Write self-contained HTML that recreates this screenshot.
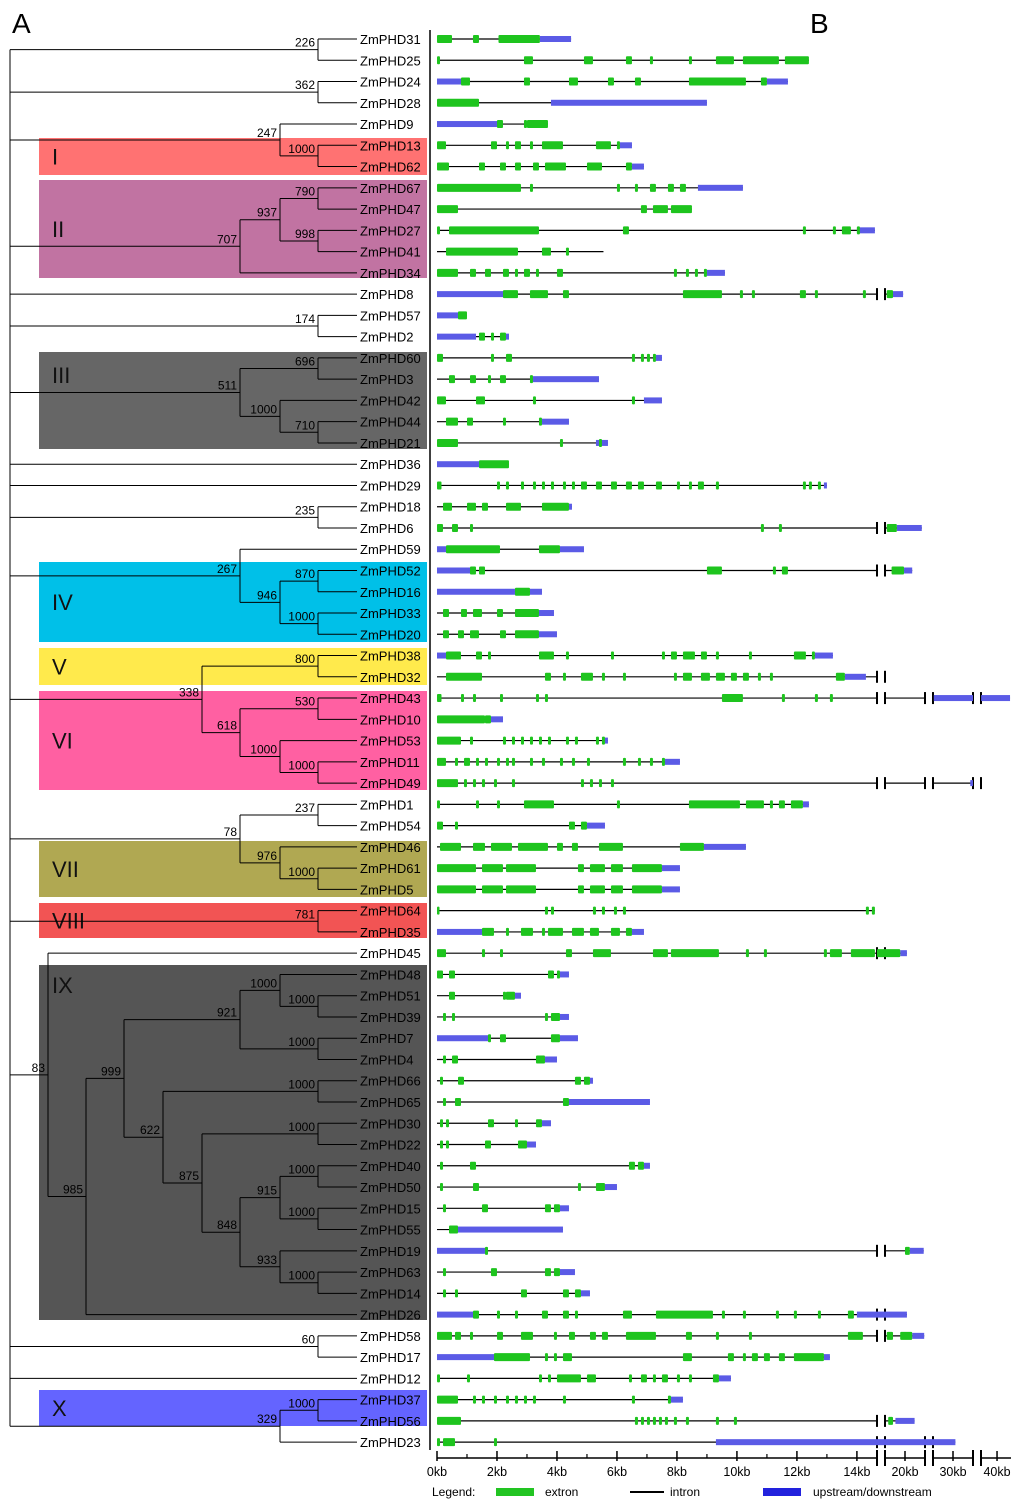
<!DOCTYPE html>
<html><head><meta charset="utf-8"><style>
body{margin:0;background:#fff;font-family:"Liberation Sans",sans-serif}
svg{display:block}
</style></head><body>
<svg id="fig" width="1024" height="1502" viewBox="0 0 1024 1502">
<text x="12" y="33" font-size="28">A</text>
<text x="810" y="33" font-size="28">B</text>
<g id="boxes"></g><g id="tree"></g><g id="genes"></g><g id="axis"></g>
<line x1="430" y1="30" x2="430" y2="1450" stroke="#000" stroke-width="1.5"/>
<g>
<text x="432" y="1496" font-size="12">Legend:</text>
<rect x="496" y="1488" width="38" height="8" fill="#22c422"/>
<text x="545" y="1496" font-size="12">extron</text>
<line x1="630" y1="1492" x2="664" y2="1492" stroke="#000" stroke-width="2"/>
<text x="670" y="1496" font-size="12">intron</text>
<rect x="763" y="1488" width="38" height="8" fill="#2222dd"/>
<text x="813" y="1496" font-size="12">upstream/downstream</text>
</g>
</svg>
<script>
const NS="http://www.w3.org/2000/svg";
const geneNames=["ZmPHD31","ZmPHD25","ZmPHD24","ZmPHD28","ZmPHD9","ZmPHD13","ZmPHD62","ZmPHD67","ZmPHD47","ZmPHD27","ZmPHD41","ZmPHD34","ZmPHD8","ZmPHD57","ZmPHD2","ZmPHD60","ZmPHD3","ZmPHD42","ZmPHD44","ZmPHD21","ZmPHD36","ZmPHD29","ZmPHD18","ZmPHD6","ZmPHD59","ZmPHD52","ZmPHD16","ZmPHD33","ZmPHD20","ZmPHD38","ZmPHD32","ZmPHD43","ZmPHD10","ZmPHD53","ZmPHD11","ZmPHD49","ZmPHD1","ZmPHD54","ZmPHD46","ZmPHD61","ZmPHD5","ZmPHD64","ZmPHD35","ZmPHD45","ZmPHD48","ZmPHD51","ZmPHD39","ZmPHD7","ZmPHD4","ZmPHD66","ZmPHD65","ZmPHD30","ZmPHD22","ZmPHD40","ZmPHD50","ZmPHD15","ZmPHD55","ZmPHD19","ZmPHD63","ZmPHD14","ZmPHD26","ZmPHD58","ZmPHD17","ZmPHD12","ZmPHD37","ZmPHD56","ZmPHD23"];
// gene length (kb)
const geneEnd=[4.47,12.4,11.7,9,3.7,6.5,6.9,10.2,8.5,14.6,5.55,9.6,19.6,1.0,2.4,7.5,5.4,7.5,4.4,5.7,2.4,13,4.5,23.5,4.9,21.5,3.5,3.9,4.0,13.2,16,42.7,2.2,5.7,8.1,34.2,12.4,5.6,10.3,8.1,8.1,14.6,6.9,20.4,4.4,2.8,4.4,4.7,4.0,5.2,7.1,3.8,3.3,7.1,6.0,4.4,4.2,23.9,4.6,5.1,20.4,24,13.1,9.8,8.2,22,30.5];
// upstream/downstream regions (kb ranges)
const geneUTR=[[[3.43,4.47]],[],[[0,0.8],[11,11.7]],[[3.8,9]],[[0,2.1]],[[6.1,6.5]],[[6.5,6.9]],[[8.7,10.2]],[],[[14.0,14.6]],[],[[9,9.6]],[[0,2.2],[17.5,19.6]],[[0,0.7]],[[0,1.3],[2.3,2.4]],[[7.3,7.5]],[[3.2,5.4]],[[6.9,7.5]],[[3.5,4.4]],[[5.3,5.7]],[[0,1.4]],[[12.9,13]],[[4.4,4.5]],[[18.3,23.5]],[[0,0.3],[4.1,4.9]],[[0,1.1],[19.8,21.5]],[[0,2.6],[3.1,3.5]],[[3.4,3.9]],[[3.4,4.0]],[[0,0.3],[12.6,13.2]],[[13.6,14.3]],[[26,34.2],[36.7,42.7]],[[1.8,2.2]],[[5.6,5.7]],[[7.6,8.1]],[[33.6,34.2]],[[12.2,12.4]],[[5.0,5.6]],[[8.9,10.3]],[[7.5,8.1]],[[7.5,8.1]],[],[[0,1.5],[6.5,6.9]],[[19,20.4]],[[4.1,4.4]],[[2.6,2.8]],[[4.1,4.4]],[[0,1.7],[4.1,4.7]],[[3.6,4.0]],[[5.1,5.2]],[[4.4,7.1]],[[3.5,3.8]],[[3.0,3.3]],[[6.9,7.1]],[[5.6,6.0]],[[4.1,4.4]],[[0.7,4.2]],[[0,1.6],[21,23.9]],[[4.1,4.6]],[[4.8,5.1]],[[0,1.2],[14,14.7],[15.8,20.4]],[[21.5,24]],[[0,1.9],[12.9,13.1]],[[9.4,9.8]],[[7.8,8.2]],[[18,22]],[[0,0.05],[9.3,14.7],[15.8,24.2],[25.8,30.5]]];
// exons (kb ranges)
const geneExons=[
[[0,0.5],[1.2,1.4],[2.05,3.43]],
[[0,0.1],[2.9,3.2],[4.9,5.2],[6.3,6.5],[7.1,7.2],[8.4,8.5],[9.3,9.9],[10.2,11.4],[11.6,12.4]],
[[0.8,1.1],[2.9,3.1],[4.4,4.7],[5.7,5.9],[6.6,6.8],[8.4,10.3],[10.8,11]],
[[0,1.4]],
[[2.0,2.2],[2.9,3.0],[3.0,3.7]],
[[0,0.3],[1.8,2.0],[2.3,2.4],[2.6,2.8],[3.1,3.2],[3.5,4.2],[5.3,5.8],[6.0,6.1]],
[[0,0.4],[1.4,1.6],[2.1,2.3],[2.6,2.8],[3.2,3.4],[3.6,4.3],[5.0,5.5],[6.3,6.5]],
[[0,2.8],[3.1,3.2],[6.0,6.1],[6.6,6.7],[7.1,7.3],[7.7,7.9],[8.1,8.3]],
[[0,0.7],[6.8,7.0],[7.2,7.7],[7.8,8.5]],
[[0,0.1],[0.4,3.4],[6.2,6.4],[12.2,12.3],[13.2,13.3],[13.5,13.8],[14,14.1]],
[[0.3,2.7],[3.5,3.8],[4.3,4.4]],
[[0,0.7],[1.1,1.3],[1.6,1.8],[2.2,2.4],[2.6,2.7],[2.9,3.1],[3.3,3.4],[4,4.2],[7.9,8],[8.3,8.4],[8.6,8.7],[8.9,9]],
[[2.2,2.7],[3.1,3.7],[4.2,4.4],[8.2,9.5],[10.1,10.2],[10.5,10.6],[12.1,12.3],[12.6,12.7],[14.2,14.3],[16.2,17.5]],
[[0.7,1.0]],
[[1.4,1.6],[1.8,1.9],[2.1,2.3]],
[[0,0.2],[1.8,1.9],[2.3,2.5],[6.5,6.6],[6.8,6.9],[7,7.1],[7.2,7.3]],
[[0.4,0.6],[1.1,1.3],[1.7,1.8],[2.1,2.3],[3.1,3.2]],
[[0,0.3],[1.3,1.6],[3.2,3.3],[6.5,6.6]],
[[0.3,0.7],[1.0,1.2],[2.2,2.3],[3.4,3.5]],
[[0,0.7],[4.1,4.2],[5.4,5.5]],
[[1.4,2.4]],
[[0,0.15],[2,2.1],[2.3,2.4],[2.8,2.9],[3.2,3.3],[3.5,3.6],[3.8,3.9],[4.2,4.3],[4.5,4.6],[4.8,5],[5.3,5.5],[5.8,6],[6.3,6.5],[6.7,6.9],[7.3,7.5],[8,8.1],[8.4,8.5],[8.7,8.9],[9.3,9.4],[12.2,12.3],[12.4,12.5],[12.7,12.8]],
[[0.2,0.5],[1.0,1.3],[1.5,1.7],[2.3,2.8],[3.5,4.4]],
[[0,0.2],[0.5,0.7],[1.1,1.2],[10.8,10.9],[11.4,11.5],[16.2,18.3]],
[[0.3,2.1],[3.4,4.1]],
[[1.1,1.3],[1.4,1.6],[9,9.5],[11.2,11.3],[11.5,11.7],[17.2,19.8]],
[[2.6,3.1]],
[[0.2,0.4],[0.8,1.0],[1.2,1.5],[2.0,2.2],[2.6,3.4]],
[[0.2,0.4],[0.7,0.9],[1.1,1.4],[2.1,2.3],[2.6,3.4]],
[[0.3,0.8],[1.3,1.5],[1.7,1.8],[3.4,3.9],[4.3,4.4],[5.8,5.9],[7.5,7.6],[7.8,8.0],[8.2,8.6],[8.8,9.0],[9.3,9.4],[10.4,10.5],[11.9,12.3],[12.5,12.6]],
[[0.3,1.5],[3.6,3.8],[4.2,4.3],[4.8,5.2],[5.5,5.6],[6.2,6.3],[7.9,8.0],[8.2,8.5],[8.8,9.1],[9.3,9.6],[9.8,10.0],[10.2,10.4],[10.7,10.8],[11.1,11.2],[13.3,13.6]],
[[0,0.15],[0.8,0.9],[1.2,1.3],[2.1,2.2],[3.3,3.4],[3.6,3.7],[9.5,10.2],[11.5,11.6],[12.6,12.7],[13.1,13.2]],
[[0,1.6],[1.6,1.8]],
[[0,0.8],[1.1,1.2],[2.2,2.3],[2.5,2.6],[2.8,2.9],[3.1,3.2],[3.4,3.5],[3.7,3.8],[4.3,4.4],[4.6,4.7],[5.3,5.4],[5.5,5.6]],
[[0,0.3],[0.6,0.7],[0.9,1.1],[1.3,1.4],[1.6,1.7],[2,2.1],[2.3,2.4],[2.5,2.6],[3.1,3.2],[3.5,3.6],[4.1,4.2],[4.5,4.6],[5,5.1],[6.2,6.3],[6.7,6.8],[7.1,7.2],[7.5,7.6]],
[[0,0.7],[0.9,1],[1.2,1.3],[1.5,1.6],[1.9,2],[2.5,2.6],[4.8,4.9],[5.1,5.2],[5.4,5.5],[5.8,5.9]],
[[0,0.1],[1.3,1.4],[2.0,2.1],[2.9,3.9],[6,6.1],[8.4,10.1],[10.3,10.9],[11.1,11.2],[11.4,11.6],[11.8,12.2]],
[[0,0.2],[0.6,0.7],[4.4,4.6],[4.8,5.0]],
[[0.1,0.8],[1.2,1.6],[1.8,2.5],[2.7,3.7],[4,4.2],[4.5,4.7],[5.4,6.2],[8.1,8.9]],
[[0,1.3],[1.5,2.2],[2.3,3.3],[4.7,4.9],[5.1,5.6],[5.8,6.2],[6.5,7.5]],
[[0,1.3],[1.5,2.2],[2.3,3.3],[4.7,4.9],[5.1,5.6],[5.8,6.2],[6.5,7.5]],
[[0,0.05],[3.6,3.7],[3.8,3.9],[5.2,5.3],[5.5,5.6],[5.9,6.0],[6.2,6.3],[14.3,14.4],[14.5,14.6]],
[[1.5,1.9],[2.3,2.4],[2.8,3.2],[3.5,3.6],[3.7,4.2],[4.5,4.9],[5.1,5.4],[5.8,6.1],[6.3,6.5]],
[[0,0.3],[1.5,1.6],[2.1,2.2],[4.3,4.5],[5.2,5.8],[7.2,7.7],[7.8,9.4],[10.3,10.4],[10.9,11.0],[12.9,13],[13.1,13.5],[13.8,14.6],[15.8,19]],
[[0,0.2],[0.4,0.6],[3.7,3.9],[4.0,4.1]],
[[0.4,0.6],[2.2,2.3],[2.3,2.6]],
[[0.2,0.3],[0.5,0.6],[3.6,3.7],[3.8,4.1]],
[[1.7,1.8],[2.1,2.3],[3.8,4.1]],
[[0.2,0.3],[0.5,0.7],[3.3,3.6]],
[[0.1,0.2],[0.7,0.9],[4.6,4.8],[4.9,5.1]],
[[0.2,0.3],[0.6,0.8],[4.2,4.4]],
[[0.1,0.2],[0.3,0.4],[1.7,1.9],[2.6,2.7],[3.3,3.5]],
[[0.1,0.2],[0.3,0.4],[1.6,1.8],[2.7,3.0]],
[[0.1,0.2],[1.1,1.3],[6.4,6.6],[6.7,6.9]],
[[0.1,0.2],[1.2,1.4],[4.7,4.8],[5.3,5.6]],
[[0.2,0.3],[1.5,1.7],[3.6,3.8],[3.9,4.1]],
[[0.4,0.7]],
[[1.6,1.7],[20.0,21.0]],
[[0.2,0.3],[1.8,2.0],[3.6,3.8],[3.9,4.1]],
[[0.2,0.3],[0.6,0.7],[2.8,3.0],[4.2,4.4],[4.6,4.8]],
[[1.2,1.4],[2.0,2.1],[2.6,2.7],[3.5,3.7],[4.2,4.4],[4.6,4.7],[6.2,6.5],[7.3,9.2],[9.5,9.6],[10.2,10.3],[11.3,11.4],[11.9,12],[12.7,12.8],[13.7,13.9]],
[[0,0.5],[0.6,0.8],[1.1,1.2],[2.0,2.2],[2.8,3.2],[3.9,4.0],[4.4,4.6],[5.1,5.3],[5.5,5.7],[6.3,7.3],[8.3,8.5],[9.3,9.4],[10.4,10.5],[13.7,14.2],[16.2,17.5],[19,21.5]],
[[1.9,3.1],[3.6,3.7],[3.9,4.0],[4.2,4.5],[8.2,8.5],[9.7,9.9],[10.2,10.3],[10.5,10.7],[10.9,11.1],[11.4,11.6],[11.9,12.9]],
[[0,0.1],[1.0,1.1],[3.4,3.5],[3.7,3.8],[4.0,4.8],[5.0,5.3],[6.4,6.5],[6.8,7.0],[7.2,7.3],[7.5,7.7],[8.0,8.1],[8.4,8.5],[9.2,9.4]],
[[0,0.7],[1.2,1.3],[1.5,1.6],[1.9,2.0],[2.3,2.4],[2.6,2.7],[2.9,3.0],[3.2,3.3],[4.2,4.3],[6.5,6.6],[7.7,7.8]],
[[0,0.8],[6.6,6.7],[6.8,6.9],[7.0,7.1],[7.2,7.3],[7.4,7.5],[7.6,7.7],[7.9,8.0],[8.3,8.4],[9.3,9.4],[9.9,10],[16.5,17.5]],
[[0,0.1],[0.2,0.6],[1.9,2.0]]];
const majorTicks=[0,2,4,6,8,10,12,14,20,30,40];
const tickLabels=["0kb","2kb","4kb","6kb","8kb","10kb","12kb","14kb","20kb","30kb","40kb"];

const segs=[[0,14.67,437,877],[15.83,24.17,885,925],[25.83,34.17,933,973],[36.67,42.9,981,1011]];
function xKb(k){
  for(let i=0;i<segs.length;i++){const s=segs[i];
    if(k<=s[1]||i===segs.length-1){ if(k<s[0]) return s[2]; return s[2]+(Math.min(k,s[1])-s[0])*(s[3]-s[2])/(s[1]-s[0]);}
    if(i<segs.length-1 && k<segs[i+1][0]) return s[3];
  }
}
function yRow(i){return 39+i*21.26;}
function el(tag,attrs,parent){const e=document.createElementNS(NS,tag);for(const k in attrs)e.setAttribute(k,attrs[k]);parent.appendChild(e);return e;}

const boxes=[["I",138,175,"#ff7272"],["II",180,278,"#c173a2"],["III",352,449,"#666666"],["IV",562,642,"#00c0e8"],["V",648,685,"#ffea4c"],["VI",691,790,"#ff60a2"],["VII",841,897,"#b0a852"],["VIII",903,938,"#f25454"],["IX",965,1320,"#555555"],["X",1390,1426,"#6464ff"]];
const labelY={"III":383,"IX":993};
const gb=document.getElementById('boxes');
boxes.forEach(b=>{
  const r=el('rect',{x:39,y:b[1],width:388,height:b[2]-b[1],fill:b[3]},gb);
  
  
  const ty=labelY[b[0]]||(b[1]+b[2])/2+8;
  const t=el('text',{x:52,y:ty,'font-size':22,fill:'#111'},gb);t.textContent=b[0];
  
  
});

const idx={};geneNames.forEach((n,i)=>idx[n.replace('ZmPHD','')]=i);
function L(n){return {leaf:idx[n]};}
function N(x,b,...c){return {x:x,b:b,c:c};}
const root=N(10,'',
 N(318,'226',L('31'),L('25')),
 N(318,'362',L('24'),L('28')),
 N(280,'247',L('9'),N(318,'1000',L('13'),L('62'))),
 N(240,'707',N(280,'937',N(318,'790',L('67'),L('47')),N(318,'998',L('27'),L('41'))),L('34')),
 L('8'),
 N(318,'174',L('57'),L('2')),
 N(240,'511',N(318,'696',L('60'),L('3')),N(280,'1000',L('42'),N(318,'710',L('44'),L('21')))),
 L('36'),L('29'),
 N(318,'235',L('18'),L('6')),
 N(240,'267',L('59'),N(280,'946',N(318,'870',L('52'),L('16')),N(318,'1000',L('33'),L('20')))),
 N(202,'338',N(318,'800',L('38'),L('32')),N(240,'618',N(318,'530',L('43'),L('10')),N(280,'1000',L('53'),N(318,'1000',L('11'),L('49'))))),
 N(240,'78',N(318,'237',L('1'),L('54')),N(280,'976',L('46'),N(318,'1000',L('61'),L('5')))),
 N(318,'781',L('64'),L('35')),
 N(48,'83',L('45'),N(86,'985',N(124,'999',N(240,'921',N(280,'1000',L('48'),N(318,'1000',L('51'),L('39'))),N(318,'1000',L('7'),L('4'))),N(163,'622',N(318,'1000',L('66'),L('65')),N(202,'875',N(318,'1000',L('30'),L('22')),N(240,'848',N(280,'915',N(318,'1000',L('40'),L('50')),N(318,'1000',L('15'),L('55'))),N(280,'933',L('19'),N(318,'1000',L('63'),L('14'))))))),L('26'))),
 N(318,'60',L('58'),L('17')),
 L('12'),
 N(280,'329',N(318,'1000',L('37'),L('56')),L('23')));
const gt=document.getElementById('tree');
function layout(n){
  if(n.leaf!==undefined){n.y=yRow(n.leaf);n.x=357;return;}
  n.c.forEach(layout);
  n.y=(n.c[0].y+n.c[n.c.length-1].y)/2;
}
layout(root);
function draw(n){
  if(n.leaf!==undefined)return;
  const v=el('line',{x1:n.x,x2:n.x,y1:n.c[0].y,y2:n.c[n.c.length-1].y,stroke:'#000','stroke-width':1},gt);
  
  
  n.c.forEach(c=>{
    const h=el('line',{x1:n.x,x2:c.x,y1:c.y,y2:c.y,stroke:'#000','stroke-width':1},gt);
    
    
    draw(c);
  });
  if(n.b){const t=el('text',{x:n.x-3,y:n.y-3,'font-size':12,'text-anchor':'end',fill:'#000'},gt);t.textContent=n.b;
    
    }
}
draw(root);
geneNames.forEach((g,i)=>{
  const t=el('text',{x:360,y:yRow(i)+5,'font-size':13,fill:'#000'},gt);t.textContent=g;
  
  
});

const gg=document.getElementById('genes');
const breaks=[[877,885],[925,933],[973,981]];
geneNames.forEach((g,i)=>{
  const y=yRow(i), e=geneEnd[i];
  const grp=el('g',{},gg);
  
  
  segs.forEach(s=>{
    if(e>s[0]){const ln=el('line',{x1:s[2],x2:xKb(Math.min(e,s[1])),y1:y,y2:y,stroke:'#000','stroke-width':1.2},grp);
      
      }
  });
  breaks.forEach((b,j)=>{
    if(e>segs[j][1]){
      [b[0],b[1]].forEach(bx=>{const bl=el('line',{x1:bx,x2:bx,y1:y-6,y2:y+6,stroke:'#000','stroke-width':2},grp);
        
        });
    }
  });
  geneUTR[i].forEach(u=>{
    const r=el('rect',{x:xKb(u[0]),y:y-3,width:Math.max(1,xKb(u[1])-xKb(u[0])),height:6,fill:'#5b5be6'},grp);
    
    
  });
  geneExons[i].forEach(x=>{
    const r=el('rect',{x:xKb(x[0]),y:y-4,width:Math.max(2.5,xKb(x[1])-xKb(x[0])),height:8,fill:'#1ec41e',rx:1},grp);
    
    
  });
});

const ga=document.getElementById('axis');
const ay=1458;
segs.forEach(s=>{
  const l=el('line',{x1:s[2],x2:Math.min(s[3],1015),y1:ay,y2:ay,stroke:'#000','stroke-width':1.5},ga);
  
  
});
breaks.forEach(b=>{[b[0],b[1]].forEach(bx=>{const l=el('line',{x1:bx,x2:bx,y1:ay-8,y2:ay+8,stroke:'#000','stroke-width':2},ga);
  
  });});
for(let k=1;k<14;k+=2){const l=el('line',{x1:xKb(k),x2:xKb(k),y1:ay-4,y2:ay,stroke:'#000','stroke-width':1.2},ga);
  
  }
majorTicks.forEach((k,j)=>{
  const x=xKb(k);
  const l=el('line',{x1:x,x2:x,y1:ay-7,y2:ay+3,stroke:'#000','stroke-width':1.5},ga);
  
  
  const t=el('text',{x:x,y:1476,'font-size':12.5,'text-anchor':'middle'},ga);t.textContent=tickLabels[j];
  
  
});
</script>
</body></html>
